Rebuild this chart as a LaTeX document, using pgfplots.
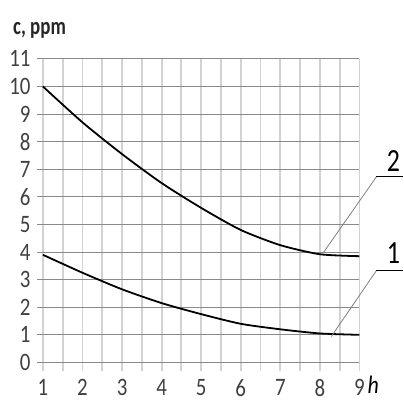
\documentclass[border=0pt]{standalone}
\usepackage{fontspec}
\setmainfont{Carlito}
\usepackage{pgfplots}
\pgfplotsset{compat=1.18}

\definecolor{hgrid}{HTML}{8A8A8A}
\definecolor{vgrid}{HTML}{D2D2D2}

\begin{document}
\begin{tikzpicture}[x=1bp,y=1bp]
\begin{axis}[
    scale only axis,
    width=323bp, height=313bp,
    at={(0,0)}, anchor=south west,
    xmin=0.849, xmax=9, ymin=-0.326, ymax=11,
    xtick={1,...,9}, ytick={0,...,11},
    minor x tick num=1,
    major tick length=0pt, minor tick length=0pt,
    axis line style={draw=none},
    xmajorgrids, xminorgrids, ymajorgrids,
    x grid style={draw=vgrid, line width=1.8bp},
    minor x grid style={draw=vgrid, line width=1.8bp},
    y grid style={draw=hgrid, line width=1.1bp},
    /pgf/number format/assume math mode=true,
    tick label style={font=\fontsize{21}{23}\selectfont, text=black!75, yscale=1.2},
    xticklabel style={yshift=-3bp},
    yticklabel style={xshift=-3bp},
    clip=false,
]
% curve 2
\addplot[black, line width=1.8bp, smooth, tension=0.4] coordinates {
    (1,10) (2,8.7) (3,7.55) (4,6.5) (5,5.6) (6,4.8) (7,4.25) (8,3.92) (9,3.85)
};
% curve 1
\addplot[black, line width=1.8bp, smooth, tension=0.4] coordinates {
    (1,3.9) (2,3.25) (3,2.65) (4,2.15) (5,1.75) (6,1.4) (7,1.2) (8,1.05) (9,1.0)
};
% leaders
\draw[gray, line width=0.8bp] (axis cs:8.07,3.94) -- (axis cs:9.43,6.73);
\draw[black, line width=1.3bp] (axis cs:9.43,6.73) -- (axis cs:10.11,6.73);
\draw[gray, line width=0.8bp] (axis cs:8.29,0.94) -- (axis cs:9.43,3.33);
\draw[black, line width=1.3bp] (axis cs:9.43,3.33) -- (axis cs:10.11,3.33);
\node[font=\fontsize{26}{28}\selectfont, yscale=1.25] at (axis cs:9.86,7.3) {2};
\node[font=\fontsize{26}{28}\selectfont, yscale=1.25] at (axis cs:9.86,3.95) {1};
\node[font=\fontsize{22}{24}\selectfont\itshape, yscale=1.15, inner sep=1bp] at (axis cs:9.35,-0.82) {h};
\node[anchor=west, inner sep=0pt, font=\fontsize{19}{21}\selectfont\bfseries, text=black!85, yscale=1.3] at (axis cs:0.243,12.05) {c, ppm};
\end{axis}
\path[use as bounding box] (-37bp,-31bp) rectangle (367bp,372bp);
\end{tikzpicture}
\end{document}
